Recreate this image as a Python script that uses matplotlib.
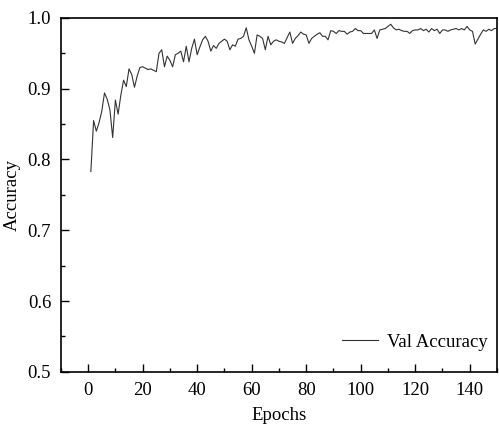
import matplotlib
matplotlib.use("Agg")
import matplotlib.pyplot as plt
from matplotlib.ticker import MultipleLocator

plt.rcParams['font.family'] = ['Liberation Serif', 'DejaVu Serif']

epochs = list(range(1, 151))
val_acc = [
    0.783, 0.855, 0.840, 0.852, 0.868, 0.894, 0.885, 0.870, 0.831, 0.884,
    0.864, 0.891, 0.912, 0.903, 0.928, 0.920, 0.902, 0.918, 0.930, 0.931,
    0.929, 0.927, 0.928, 0.926, 0.924, 0.950, 0.955, 0.931, 0.946, 0.940,
    0.931, 0.948, 0.950, 0.953, 0.938, 0.960, 0.938, 0.957, 0.970, 0.948,
    0.959, 0.969, 0.974, 0.967, 0.953, 0.961, 0.957, 0.964, 0.967, 0.970,
    0.967, 0.955, 0.962, 0.960, 0.970, 0.971, 0.974, 0.986, 0.969, 0.960,
    0.950, 0.976, 0.974, 0.971, 0.955, 0.974, 0.962, 0.967, 0.969, 0.967,
    0.966, 0.964, 0.972, 0.980, 0.964, 0.971, 0.975, 0.980, 0.977, 0.976,
    0.964, 0.971, 0.974, 0.977, 0.979, 0.974, 0.974, 0.969, 0.982, 0.981,
    0.978, 0.982, 0.981, 0.981, 0.977, 0.980, 0.981, 0.985, 0.982, 0.982,
    0.978, 0.978, 0.978, 0.978, 0.983, 0.971, 0.983, 0.984, 0.985, 0.988,
    0.991, 0.986, 0.983, 0.984, 0.982, 0.981, 0.981, 0.978, 0.982, 0.983,
    0.983, 0.985, 0.982, 0.984, 0.980, 0.985, 0.982, 0.984, 0.978, 0.983,
    0.983, 0.981, 0.983, 0.984, 0.985, 0.983, 0.985, 0.983, 0.988, 0.983,
    0.981, 0.963, 0.970, 0.977, 0.983, 0.981, 0.984, 0.982, 0.985, 0.985,
]

fig = plt.figure(figsize=(4.99, 4.26), dpi=100)
ax = fig.add_axes([0.122, 0.127, 0.874, 0.831])

ax.plot(epochs, val_acc, color="#333333", linewidth=0.8, label="Val Accuracy")

ax.set_xlim(-10, 150)
ax.set_ylim(0.5, 1.0)
ax.xaxis.set_major_locator(MultipleLocator(20))
ax.xaxis.set_minor_locator(MultipleLocator(10))
ax.yaxis.set_major_locator(MultipleLocator(0.1))
ax.yaxis.set_minor_locator(MultipleLocator(0.05))
ax.tick_params(which="major", direction="in", length=6, width=1, labelsize=13.5, pad=7)
ax.tick_params(which="minor", direction="in", length=3, width=1)
ax.yaxis.set_major_formatter(plt.FuncFormatter(lambda v, p: f"{v:.1f}"))

for s in ax.spines.values():
    s.set_linewidth(1.2)

ax.set_xlabel("Epochs", fontsize=13.5, labelpad=6)
ax.set_ylabel("Accuracy", fontsize=13.5, labelpad=5)

ax.legend(loc="lower right", bbox_to_anchor=(1.009, 0.023), frameon=False,
          fontsize=13.5, handlelength=1.9, handletextpad=0.5, borderaxespad=0.3)

fig.savefig("out.png", dpi=100)
